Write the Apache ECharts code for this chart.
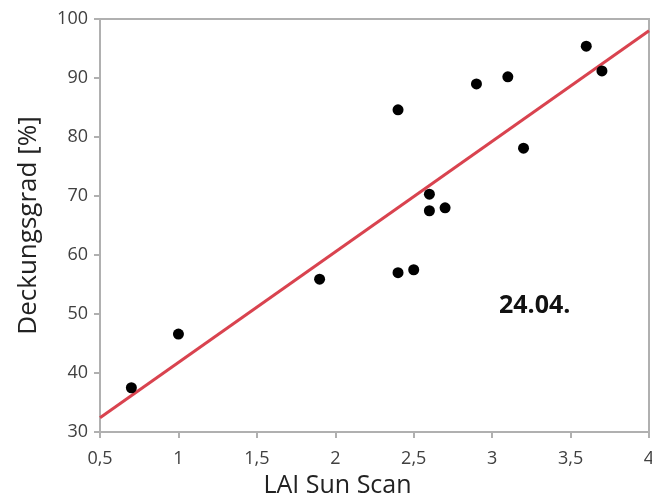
<!DOCTYPE html>
<html style="height: 100%">
<head>
    <meta charset="utf-8">
</head>
<body style="height: 100%; margin: 0">
    <div id="container" style="width: 652px; height: 500px"></div>
    <script type="text/javascript" src="https://cdn.jsdelivr.net/npm/echarts@6/dist/echarts.min.js"></script>
    <script type="text/javascript">
        // LAI Sun Scan vs. Deckungsgrad, 24.04.
        var laiValues = [0.7, 1.0, 1.9, 2.4, 2.4, 2.5, 2.6, 2.6, 2.7, 2.9, 3.1, 3.2, 3.6, 3.7];
        var coverValues = [37.5, 46.6, 55.9, 84.6, 57.0, 57.5, 70.3, 67.5, 68.0, 89.0, 90.2, 78.1, 95.4, 91.2];
        var fitX = [0.5, 4];
        var fitY = [32.4, 98.0];
        var dateLabel = '24.04.';

        var points = laiValues.map(function (x, i) {
            return [x, coverValues[i]];
        });
        var fitLine = fitX.map(function (x, i) {
            return [x, fitY[i]];
        });

        var dom = document.getElementById("container");
        var myChart = echarts.init(dom);
        var fontFamily = '"Open Sans", "DejaVu Sans", sans-serif';

        var option = {
            backgroundColor: '#ffffff',
            animation: false,
            grid: {
                left: 100,
                right: 3,
                top: 19,
                bottom: 68,
                outerBoundsMode: 'none',
                containLabel: false,
                show: true,
                borderColor: '#b0b0b0',
                borderWidth: 2
            },
            xAxis: {
                type: 'value',
                min: 0.5,
                max: 4,
                interval: 0.5,
                name: 'LAI Sun Scan',
                nameLocation: 'middle',
                nameGap: 41,
                nameTextStyle: { fontSize: 25, color: '#222', fontFamily: fontFamily, padding: [0, 74, 0, 0] },
                axisLine: { show: true, lineStyle: { color: '#b0b0b0', width: 2 } },
                axisTick: { show: true, length: 6, lineStyle: { color: '#b0b0b0', width: 2 } },
                axisLabel: {
                    fontSize: 18,
                    color: '#404040',
                    fontFamily: fontFamily,
                    margin: 18,
                    showMaxLabel: true,
                    formatter: function (v) { return String(v).replace('.', ','); }
                },
                splitLine: { show: false }
            },
            yAxis: {
                type: 'value',
                min: 30,
                max: 100,
                interval: 10,
                name: 'Deckungsgrad [%]',
                nameLocation: 'middle',
                nameGap: 58,
                nameTextStyle: { fontSize: 26, color: '#222', fontFamily: fontFamily },
                axisLine: { show: true, lineStyle: { color: '#b0b0b0', width: 2 } },
                axisTick: { show: true, length: 6, lineStyle: { color: '#b0b0b0', width: 2 } },
                axisLabel: { fontSize: 18, color: '#404040', fontFamily: fontFamily, margin: 12 },
                splitLine: { show: false }
            },
            series: [{
                type: 'line',
                data: fitLine,
                symbol: 'none',
                silent: true,
                lineStyle: { color: '#d9434f', width: 3 },
                z: 2
            }, {
                type: 'scatter',
                data: points,
                symbolSize: 11,
                itemStyle: { color: '#000000', opacity: 1 },
                z: 3
            }],
            graphic: [{
                type: 'text',
                x: 499,
                y: 306,
                style: {
                    text: dateLabel,
                    font: 'bold 25px ' + fontFamily,
                    fill: '#111',
                    verticalAlign: 'middle'
                }
            }]
        };

        myChart.setOption(option);
    </script>
</body>
</html>
